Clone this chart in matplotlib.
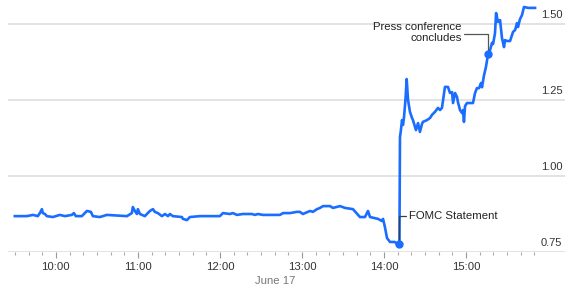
import matplotlib
matplotlib.use("Agg")
import matplotlib.pyplot as plt

# ---- data (time "HH:MM.m", value) ----
times = [
    "9:30", "9:38.8", "9:43.2", "9:46.8", "9:48.3", "9:49.8", "9:50.5", "9:52", "9:53.4",
    "9:57.8", "10:02.9", "10:06.6", "10:11.7", "10:13.2", "10:14.6", "10:19", "10:21.2",
    "10:22.7", "10:25.6", "10:27.1", "10:32.2", "10:37.3", "10:52", "10:55.6", "10:56.3",
    "10:57.8", "10:59.3", "11:00", "11:01.5", "11:05.1", "11:08.8", "11:11", "11:12.4",
    "11:14.6", "11:17.6", "11:19.8", "11:22", "11:23.4", "11:25.6", "11:32.2", "11:32.9",
    "11:35.9", "11:38", "11:45.4", "12:00", "12:02.2", "12:07.3", "12:09.5", "12:12.4",
    "12:16.8", "12:23.4", "12:25.6", "12:27.8", "12:31.5", "12:43.9", "12:46.1", "12:51.2",
    "12:56.3", "12:58.5", "13:00.7", "13:05.9", "13:08", "13:11", "13:13.2", "13:15.4",
    "13:20.5", "13:22.7", "13:27.8", "13:31.5", "13:37.3", "13:42.4", "13:46.1", "13:48.3",
    "13:49.8", "13:55.6", "13:58.5", "13:59.3", "14:00.7", "14:02.2", "14:04.4", "14:08",
    "14:09.5", "14:11.3",
    "14:11.7", "14:12.4", "14:13.2", "14:13.9", "14:14.6", "14:15.7", "14:16.6", "14:17.6",
    "14:19", "14:20.5", "14:21.2", "14:23.4", "14:24.9", "14:26.3", "14:27.8", "14:28.5",
    "14:31.5", "14:33.7", "14:35.1", "14:37.3", "14:39.5", "14:41", "14:42.4", "14:44.6",
    "14:46.8", "14:48.3", "14:49.8", "14:50.5", "14:52", "14:53.4", "14:54.1", "14:55.6",
    "14:57.1", "14:57.8", "14:58.5", "14:59.3", "15:00.7", "15:02.9", "15:05.1", "15:06.6",
    "15:08", "15:09.5", "15:11", "15:11.7", "15:13.2", "15:14.6", "15:15.4", "15:16.1",
    "15:17.6", "15:19", "15:19.8", "15:21.2", "15:22", "15:23.4", "15:24.9", "15:26.3",
    "15:27.8", "15:28.5", "15:30", "15:32.2", "15:34.4", "15:35.9", "15:37.3", "15:38",
    "15:39.5", "15:41", "15:42.4", "15:45.4", "15:50.5",
]
values = [
    0.868, 0.868, 0.872, 0.868, 0.878, 0.891, 0.878, 0.875, 0.868,
    0.865, 0.872, 0.868, 0.872, 0.878, 0.868, 0.868, 0.878,
    0.885, 0.882, 0.868, 0.865, 0.872, 0.868, 0.878, 0.898,
    0.885, 0.875, 0.891, 0.875, 0.868, 0.885, 0.891, 0.882,
    0.878, 0.868, 0.875, 0.868, 0.875, 0.868, 0.865, 0.859,
    0.855, 0.865, 0.868, 0.868, 0.878, 0.875, 0.878, 0.872,
    0.875, 0.875, 0.872, 0.875, 0.872, 0.872, 0.878, 0.878,
    0.882, 0.882, 0.875, 0.885, 0.882, 0.891, 0.895, 0.901,
    0.901, 0.895, 0.901, 0.895, 0.891, 0.865, 0.865, 0.885,
    0.865, 0.859, 0.852, 0.859, 0.832, 0.796, 0.783, 0.783,
    0.776, 0.776,
    1.128, 1.151, 1.184, 1.168, 1.191, 1.250, 1.319, 1.250,
    1.211, 1.191, 1.184, 1.151, 1.174, 1.145, 1.171, 1.178,
    1.184, 1.191, 1.201, 1.211, 1.224, 1.217, 1.224, 1.293,
    1.293, 1.273, 1.276, 1.240, 1.273, 1.260, 1.243, 1.217,
    1.207, 1.217, 1.178, 1.230, 1.240, 1.240, 1.240, 1.273,
    1.289, 1.289, 1.306, 1.292, 1.332, 1.359, 1.382, 1.401,
    1.414, 1.438, 1.434, 1.470, 1.536, 1.507, 1.513, 1.454,
    1.424, 1.447, 1.444, 1.444, 1.474, 1.480, 1.503, 1.490,
    1.516, 1.530, 1.556, 1.553, 1.553,
]

fomc_time, fomc_value = "14:11.3", 0.776
press_time, press_value = "15:16.1", 1.401

y_ticks = [0.75, 1.00, 1.25, 1.50]
x_major = ["10:00", "11:00", "12:00", "13:00", "14:00", "15:00"]
date_label = "June 17"


def to_min(s):
    h, m = s.split(":")
    return int(h) * 60 + float(m)


t = [to_min(s) for s in times]

plt.rcParams["font.family"] = ["Liberation Sans", "DejaVu Sans"]

W, H = 568, 287
fig = plt.figure(figsize=(W / 100, H / 100), dpi=100)
ax = fig.add_axes([8 / W, 35 / H, (565 - 8) / W, 252 / H])

blue = "#1a6dff"

ax.set_xlim(to_min("9:25"), to_min("16:12.4"))
ax.set_ylim(0.75, 0.75 + 252 / 304)

for v in y_ticks:
    ax.axhline(v, color="#e0e0e0", lw=1.3, zorder=1)
    ax.annotate(f"{v:.2f}", xy=(1.0, v), xycoords=("axes fraction", "data"),
                xytext=(-2, 3), textcoords="offset points", ha="right", va="bottom",
                fontsize=8, color="#333333")

ax.plot(t, values, color=blue, lw=1.9, zorder=3, solid_joinstyle="round")
ax.plot([to_min(fomc_time), to_min(press_time)], [fomc_value, press_value], "o",
        color=blue, ms=5, zorder=4)

ax.annotate("FOMC Statement", xy=(to_min(fomc_time), fomc_value),
            xytext=(7, 20), textcoords="offset points", ha="left", va="center",
            fontsize=8.2, color="#222222",
            arrowprops=dict(arrowstyle="-", color="#3a3f4a", lw=0.9, shrinkA=0, shrinkB=0,
                            relpos=(0, 0.5),
                            connectionstyle="angle,angleA=0,angleB=90,rad=0"))
ax.annotate("Press conference\nconcludes", xy=(to_min(press_time), press_value),
            xytext=(-19, 15.5), textcoords="offset points", ha="right", va="center",
            fontsize=8.2, color="#222222", multialignment="right", linespacing=1.05,
            arrowprops=dict(arrowstyle="-", color="#555555", lw=0.9, shrinkA=0, shrinkB=0,
                            relpos=(1, 0.45),
                            connectionstyle="angle,angleA=0,angleB=90,rad=0"))

for s in ax.spines.values():
    s.set_visible(False)
ax.set_yticks([])
major = [to_min(s) for s in x_major]
minor = [m for m in range(int(to_min("9:30")), int(to_min("15:50")) + 1, 10) if m not in major]
ax.set_xticks(major)
ax.set_xticklabels(x_major)
ax.set_xticks(minor, minor=True)
ax.tick_params(axis="x", which="major", length=4.5, width=0.8, color="#999999",
               labelsize=8.2, labelcolor="#333333", pad=3)
ax.tick_params(axis="x", which="minor", length=2.2, width=0.8, color="#aaaaaa")

fig.text(275 / W, 1 - 281 / H, date_label, ha="center", va="center", fontsize=8.2,
         color="#777777")

fig.savefig("out.png", dpi=100)
